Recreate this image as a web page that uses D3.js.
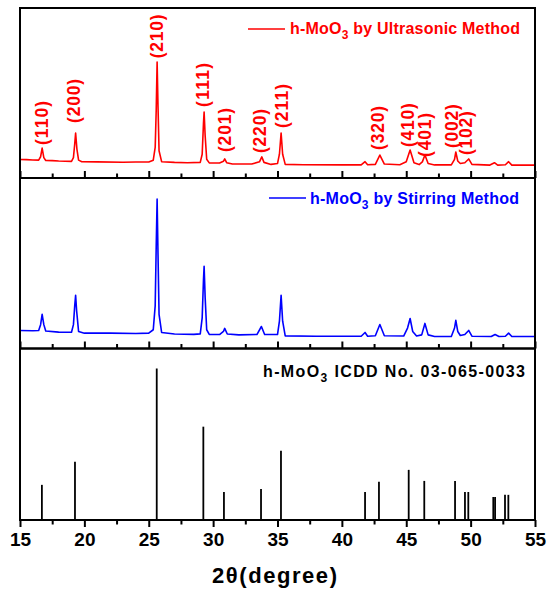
<!DOCTYPE html>
<html><head><meta charset="utf-8">
<script src="https://cdn.jsdelivr.net/npm/d3@7"></script>
<style>body{margin:0;background:#fff}svg{display:block}text{font-family:"Liberation Sans",Arial,sans-serif;font-weight:bold}</style>
</head><body>
<svg id="c" width="553" height="592"></svg>
<script>
// ---- data ----
const ultrasonic = [[15,10.9],[15.5,10.8],[16.0,10.6],[16.45,10.5],[16.6,12.5],[16.72,17.6],[16.85,12],[17.0,10.3],[17.5,10.2],[18.0,10.0],[19.0,9.8],[19.15,12],[19.25,20],[19.32,26.5],[19.42,17],[19.55,10.5],[19.8,9.6],[21,9.5],[23,9.3],[24,9.4],[25.0,9.4],[25.35,10.5],[25.5,18],[25.58,40],[25.65,68.2],[25.72,42],[25.8,16],[26.0,9.6],[27,9.2],[28,9.0],[29.0,9.2],[29.15,14],[29.25,32],[29.3,38.8],[29.38,25],[29.5,11],[29.7,8.9],[30.5,8.8],[30.8,9.8],[30.9,11.2],[31.05,9],[31.5,8.2],[33.0,8.2],[33.6,9.5],[33.78,12.4],[33.95,9.2],[34.5,8.0],[35.0,8.5],[35.15,14],[35.28,26.5],[35.4,14],[35.6,8.0],[37,7.8],[40,7.7],[41.5,7.7],[41.8,9.6],[42.0,7.8],[42.6,8.0],[42.95,13.5],[43.3,8.2],[44.5,7.8],[45.0,9.5],[45.3,16.5],[45.6,9],[46.0,7.9],[46.25,9.5],[46.45,13.5],[46.7,8.5],[47.2,7.7],[48.5,7.7],[48.75,11],[48.85,15.3],[49.0,10],[49.2,8.5],[49.55,9],[49.85,11.2],[50.1,8],[51.5,7.6],[51.85,9],[52.1,7.6],[52.7,7.8],[52.95,9.6],[53.2,7.6],[55,7.6]];
const stirring = [[15,10.6],[16.0,10.4],[16.45,10.6],[16.6,14],[16.72,20],[16.85,14],[17.0,10.3],[18.0,9.6],[19.0,9.5],[19.15,14],[19.25,25],[19.32,31.2],[19.4,22],[19.55,10],[20,9],[22,9],[24,8.8],[25,9],[25.35,11],[25.5,25],[25.58,60],[25.65,87.6],[25.72,55],[25.8,20],[26.0,9.4],[27,8.5],[28.5,8.3],[29.0,8.6],[29.15,18],[29.25,40],[29.3,48.2],[29.38,30],[29.5,11],[29.7,8.3],[30.5,8.2],[30.8,10],[30.9,11.8],[31.1,8.5],[32,8.0],[33.4,8.2],[33.75,12.9],[34.0,8.2],[35.0,8.2],[35.15,16],[35.28,31.2],[35.4,16],[35.6,7.4],[38,7.2],[41.5,7.2],[41.8,9.4],[42.0,7.2],[42.6,7.5],[42.95,14.1],[43.3,7.5],[44.8,7.3],[45.1,12],[45.3,17.6],[45.5,10],[45.8,7.3],[46.2,8],[46.45,14.7],[46.7,8],[47.2,7.0],[48.5,7.0],[48.75,12],[48.85,16.5],[49.0,10],[49.2,7.6],[49.55,8.2],[49.85,10.6],[50.1,7.2],[51.6,7.0],[51.9,8.2],[52.2,7.0],[52.7,7.2],[52.95,9],[53.2,7.0],[55,7.0]];
const refTheta = [16.7,19.27,25.62,29.24,30.84,33.72,35.27,41.8,42.88,45.19,46.4,48.79,49.56,49.82,51.76,51.9,52.67,52.93];
const refIntensity = [23.2,38.4,100,61.6,18.5,20.5,45.7,18.5,25.2,33.1,25.8,25.8,18.5,18.5,15.2,15.2,16.6,16.6];
const hklLabels = ["(110)","(200)","(210)","(111)","(201)","(220)","(211)","(320)","(410)","(401)","(002)","(102)"];
const hklTheta = [16.69,19.16,25.62,29.21,30.92,33.64,35.35,42.81,45.14,46.46,48.55,49.64];
const hklLabelI = [19.4,32.4,70.4,41.8,15.3,14.7,29.4,16.5,18.2,12.4,17.6,13.5];
const xTicks = [15,20,25,30,35,40,45,50,55];
const xMinor = [17.5,22.5,27.5,32.5,37.5,42.5,47.5,52.5];
const legendTexts = ["h-MoO","3"," by Ultrasonic Method"];
// ---- layout ----
const svg = d3.select("#c");
const L = 20, R = 535;
const x = d3.scaleLinear().domain([15,55]).range([L,R]);
const panels = [{top:8,bot:178},{top:178,bot:348.5},{top:348.5,bot:520}];
const y1 = d3.scaleLinear().domain([0,100]).range([panels[0].bot,panels[0].top]);
const y2 = d3.scaleLinear().domain([0,100]).range([panels[1].bot,panels[1].top]);
const y3 = d3.scaleLinear().domain([0,113.2]).range([panels[2].bot,panels[2].top]);

// curves
const line1 = d3.line().x(d=>x(d[0])).y(d=>y1(d[1]));
const line2 = d3.line().x(d=>x(d[0])).y(d=>y2(d[1]));
svg.append("path").attr("d",line1(ultrasonic)).attr("fill","none").attr("stroke","#ff0000").attr("stroke-width",1.6).attr("stroke-linejoin","round");
svg.append("path").attr("d",line2(stirring)).attr("fill","none").attr("stroke","#0000ff").attr("stroke-width",1.6).attr("stroke-linejoin","round");
// sticks
svg.append("g").selectAll("line").data(refTheta).join("line")
  .attr("x1",d=>x(d)).attr("x2",d=>x(d))
  .attr("y1",y3(0)).attr("y2",(d,i)=>y3(refIntensity[i]))
  .attr("stroke","#000").attr("stroke-width",1.8);

// hkl labels
svg.append("g").selectAll("text").data(hklLabels).join("text")
  .attr("transform",(d,i)=>`translate(${x(hklTheta[i])},${y1(hklLabelI[i])}) rotate(-90)`)
  .attr("dy","0.36em").attr("fill","#ff0000").attr("font-size",17.5)
  .attr("textLength",44).attr("lengthAdjust","spacing")
  .text(d=>d);

// frames
panels.forEach(p=>{
  svg.append("rect").attr("x",L).attr("y",p.top).attr("width",R-L).attr("height",p.bot-p.top)
    .attr("fill","none").attr("stroke","#000").attr("stroke-width",2);
});
// ticks: top two panels inward, bottom outward
[panels[0],panels[1]].forEach(p=>{
  const g = svg.append("g").attr("transform",`translate(0,${p.bot})`);
  g.call(d3.axisTop(x).tickValues(xTicks).tickSize(7).tickFormat(""));
  g.append("g").call(d3.axisTop(x).tickValues(xMinor).tickSize(4.5).tickFormat(""));
  g.selectAll(".domain").remove();
  g.selectAll("line").attr("stroke","#000").attr("stroke-width",2);
});
const gb = svg.append("g").attr("transform",`translate(0,${panels[2].bot})`);
gb.call(d3.axisBottom(x).tickValues(xTicks).tickSize(7).tickPadding(6).tickFormat(d3.format("d")));
gb.append("g").call(d3.axisBottom(x).tickValues(xMinor).tickSize(4.5).tickFormat(""));
gb.selectAll(".domain").remove();
gb.selectAll("line").attr("stroke","#000").attr("stroke-width",2);
gb.selectAll("text").attr("font-size",19).attr("fill","#000").attr("font-family","Liberation Sans, Arial, sans-serif").attr("font-weight","bold");

// legends
function legendText(xp, yp, parts, color, len){
  const t = svg.append("text").attr("x",xp).attr("y",yp).attr("fill",color).attr("font-size",16)
    .attr("textLength",len).attr("lengthAdjust","spacing");
  t.append("tspan").text(parts[0]);
  t.append("tspan").attr("font-size",12).attr("dy",5).text(parts[1]);
  t.append("tspan").attr("dy",-5).text(parts[2]);
}
svg.append("line").attr("x1",248).attr("x2",285).attr("y1",29).attr("y2",29).attr("stroke","#ff0000").attr("stroke-width",1.6);
legendText(290,34,legendTexts,"#ff0000",230);
svg.append("line").attr("x1",269).attr("x2",306).attr("y1",198).attr("y2",198).attr("stroke","#0000ff").attr("stroke-width",1.6);
legendText(310,203.5,["h-MoO","3"," by Stirring Method"],"#0000ff",209);
legendText(263,377,["h-MoO","3"," ICDD No. 03-065-0033"],"#000",262);

// x title
svg.append("text").attr("x",274.5).attr("y",583).attr("text-anchor","middle").attr("font-size",22)
  .attr("fill","#000").attr("textLength",125).attr("lengthAdjust","spacing").text("2θ(degree)");
</script>
</body></html>
